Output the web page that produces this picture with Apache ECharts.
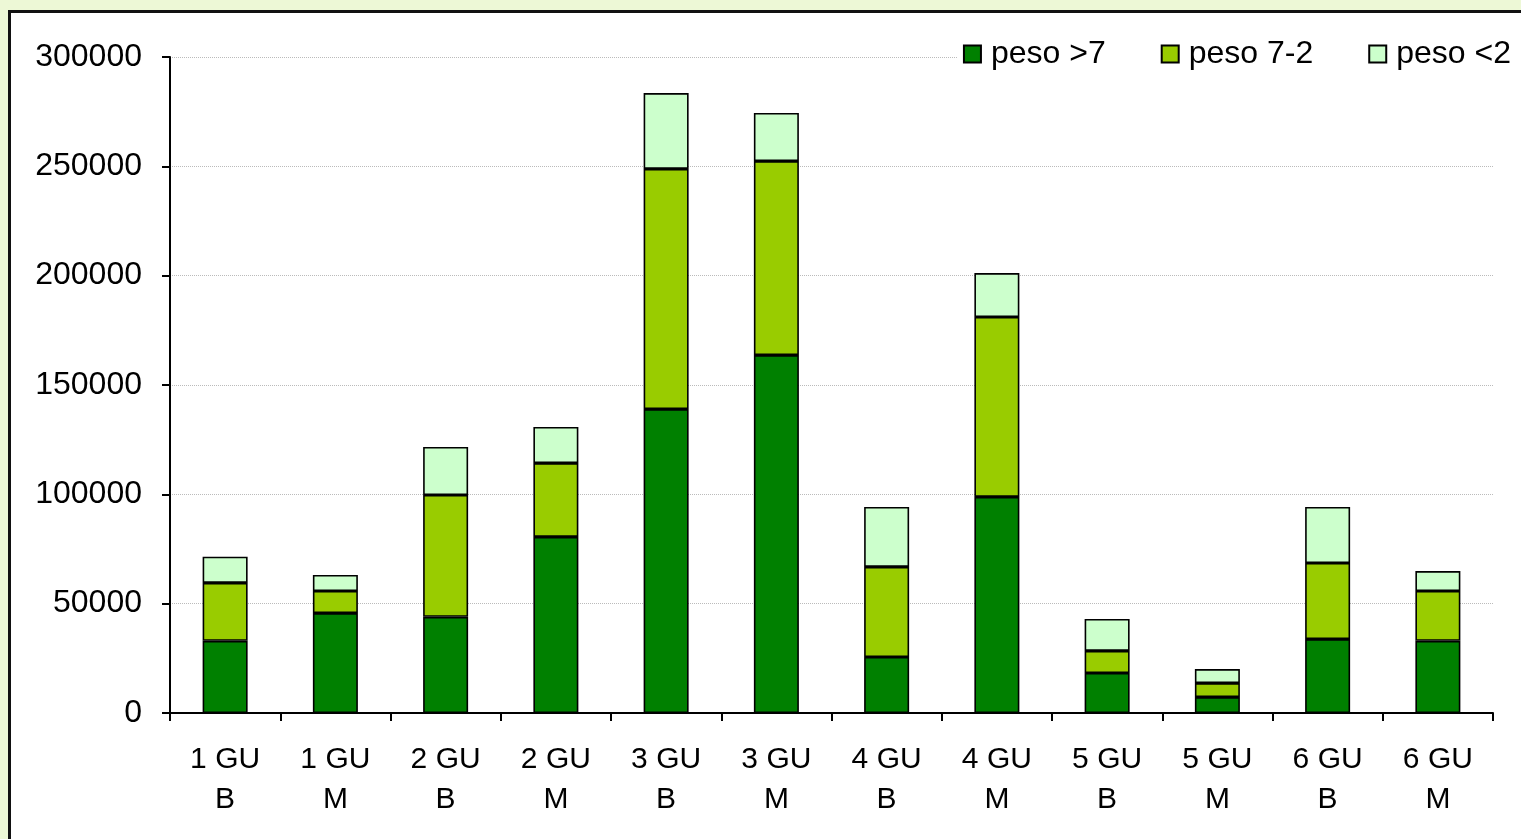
<!DOCTYPE html>
<html lang="it">
<head>
  <meta charset="utf-8">
  <title>Chart</title>
  <script src="https://cdn.jsdelivr.net/npm/echarts@6/dist/echarts.min.js"></script>
  <style>
    html, body { margin: 0; padding: 0; width: 1521px; height: 839px; overflow: hidden; background: #EDF8D6; }
    #box { position: absolute; left: 8px; top: 10px; width: 1600px; height: 900px; background: #fff; border: 3px solid #111; }
    #main { position: absolute; left: 0; top: 0; width: 1521px; height: 839px; }
  </style>
</head>
<body>
<div id="box"></div>
<div id="main"></div>
<script type="text/javascript">
    var categories = ['1 GU\nB', '1 GU\nM', '2 GU\nB', '2 GU\nM', '3 GU\nB', '3 GU\nM',
                      '4 GU\nB', '4 GU\nM', '5 GU\nB', '5 GU\nM', '6 GU\nB', '6 GU\nM'];
    var pesoOver7 = [33000, 45700, 44000, 80500, 139000, 163700, 25600, 98800, 18300, 7300, 33800, 33000];
    var peso7to2 = [26500, 10100, 55700, 33800, 109800, 88700, 41200, 82300, 10100, 6400, 34800, 22800];
    var pesoUnder2 = [12000, 7300, 22000, 16500, 34700, 22000, 27400, 20100, 14600, 6400, 25600, 9100];

    var myChart = echarts.init(document.getElementById('main'));
    var font = 'Arial, "Liberation Sans", sans-serif';

    function barSeries(name, data, color) {
        return {
            name: name,
            type: 'bar',
            stack: 'total',
            barWidth: 45,
            data: data,
            itemStyle: { color: color, borderColor: '#000', borderWidth: 1.6 },
            emphasis: { disabled: true }
        };
    }

    var option = {
        animation: false,
        textStyle: { fontFamily: font },
        grid: { left: 170, right: 28, top: 57, bottom: 126, containLabel: false },
        legend: {
            right: 6,
            top: 36,
            itemWidth: 17,
            itemHeight: 17,
            itemGap: 55,
            icon: 'rect',
            backgroundColor: '#fff',
            padding: [2, 4, 2, 6],
            textStyle: { fontSize: 32, color: '#000', fontFamily: font, padding: [0, 0, 0, 5] },
            itemStyle: { borderColor: '#000', borderWidth: 2 },
            data: ['peso >7', 'peso 7-2', 'peso <2']
        },
        xAxis: {
            type: 'category',
            data: categories,
            axisLine: { lineStyle: { color: '#000', width: 2 } },
            axisTick: { show: true, length: 8, lineStyle: { color: '#000', width: 2 } },
            axisLabel: { fontSize: 30, color: '#000', lineHeight: 40, margin: 27, interval: 0 }
        },
        yAxis: {
            type: 'value',
            min: 0,
            max: 300000,
            interval: 50000,
            axisLine: { show: true, lineStyle: { color: '#000', width: 2 } },
            axisTick: { show: true, length: 8, lineStyle: { color: '#000', width: 2 } },
            axisLabel: { fontSize: 32, color: '#000', margin: 28, formatter: function (v) { return String(v); } },
            splitLine: { lineStyle: { color: '#bbb', width: 1, type: 'dotted' } }
        },
        series: [
            barSeries('peso >7', pesoOver7, '#008000'),
            barSeries('peso 7-2', peso7to2, '#99CC00'),
            barSeries('peso <2', pesoUnder2, '#CCFFCC')
        ]
    };

    myChart.setOption(option);
</script>
</body>
</html>
